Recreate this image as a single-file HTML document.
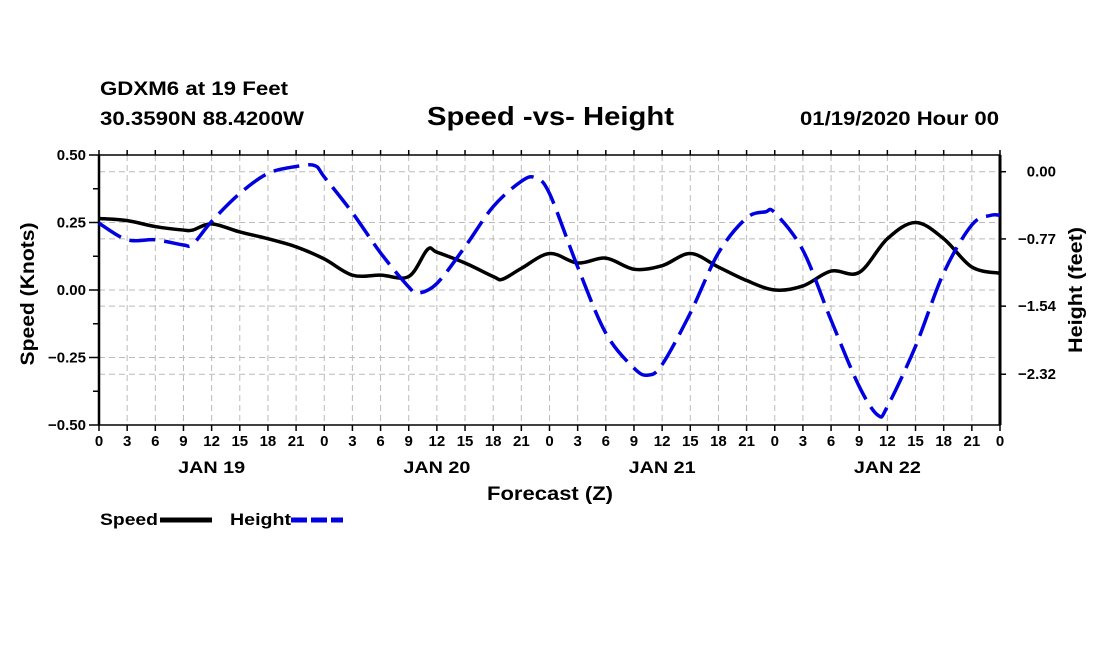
<!DOCTYPE html>
<html><head><meta charset="utf-8"><style>
body{margin:0;background:#fff;width:1100px;height:650px;overflow:hidden}
text{font-family:"Liberation Sans",Arial,sans-serif;font-weight:bold;fill:#000}
</style></head><body>
<svg id="chart" width="1100" height="650" xmlns="http://www.w3.org/2000/svg">
<text x="100" y="95" font-size="19" textLength="188" lengthAdjust="spacingAndGlyphs">GDXM6 at 19 Feet</text>
<text x="100" y="125" font-size="19" textLength="204" lengthAdjust="spacingAndGlyphs">30.3590N 88.4200W</text>
<text x="427" y="125" font-size="26" textLength="247" lengthAdjust="spacingAndGlyphs">Speed -vs- Height</text>
<text x="800" y="125" font-size="19" textLength="199" lengthAdjust="spacingAndGlyphs">01/19/2020 Hour 00</text>
<g id="grid"></g>
<g id="axes"></g>
<g id="series"></g>
<text transform="translate(34,294) rotate(-90)" font-size="19" text-anchor="middle" textLength="143" lengthAdjust="spacingAndGlyphs">Speed (Knots)</text>
<text transform="translate(1082,290) rotate(-90)" font-size="19" text-anchor="middle" textLength="126" lengthAdjust="spacingAndGlyphs">Height (feet)</text>
<text x="487" y="500" font-size="19" textLength="126" lengthAdjust="spacingAndGlyphs">Forecast (Z)</text>
<g><text x="100" y="525" font-size="17" textLength="58" lengthAdjust="spacingAndGlyphs">Speed</text><line x1="160" y1="520" x2="212" y2="520" stroke="#000" stroke-width="5"/></g>
<g><text x="230" y="525" font-size="17" textLength="61" lengthAdjust="spacingAndGlyphs">Height</text><line x1="291" y1="520" x2="343" y2="520" stroke="#0000e0" stroke-width="5" stroke-dasharray="16,4"/></g>
</svg>
<script>
const speedHours=[0,3,6,9,10,12,15,18,21,24,27,30,33,35,36,39,42,43,45,48,51,54,57,60,63,66,69,72,75,78,81,84,87,90,93,96];
const speedVals=[0.265,0.257,0.235,0.222,0.222,0.245,0.215,0.19,0.16,0.115,0.055,0.055,0.05,0.15,0.14,0.1,0.05,0.04,0.08,0.135,0.1,0.118,0.077,0.09,0.135,0.085,0.035,0.0,0.015,0.07,0.065,0.19,0.25,0.19,0.085,0.062];
const heightHours=[0,3,6,9,10,12,15,18,21,23,24,27,30,33,34,36,39,42,45,46.5,48,51,54,57,58.5,60,63,66,69,71,72,75,78,81,83,84,87,90,93,95,96];
const heightVals=[-0.59,-0.78,-0.78,-0.84,-0.83,-0.57,-0.25,-0.02,0.06,0.07,-0.06,-0.47,-0.93,-1.32,-1.39,-1.28,-0.86,-0.40,-0.11,-0.07,-0.25,-1.09,-1.85,-2.25,-2.33,-2.21,-1.62,-0.93,-0.53,-0.46,-0.47,-0.90,-1.70,-2.46,-2.79,-2.69,-2.00,-1.16,-0.61,-0.50,-0.50];
const speedTicks=["0.50","0.25","0.00","\u22120.25","\u22120.50"];
const speedTickVals=[0.5,0.25,0,-0.25,-0.5];
const heightTickVals=[0,-0.77,-1.54,-2.32];
const heightTicks=["0.00","\u22120.77","\u22121.54","\u22122.32"];
const hourLabels=["0","3","6","9","12","15","18","21"];
const dayLabels=["JAN 19","JAN 20","JAN 21","JAN 22"];
const NS="http://www.w3.org/2000/svg";
const L=99,R=1000,T=155,B=425;
const X=h=>L+h*(R-L)/96;
const YS=v=>290-v*270;
const YH=f=>171.7-f*87.3;
function mk(tag,attrs,parent){const e=document.createElementNS(NS,tag);for(const k in attrs)e.setAttribute(k,attrs[k]);parent.appendChild(e);return e;}
const grid=document.getElementById('grid'),axes=document.getElementById('axes'),series=document.getElementById('series');
for(let i=0;i<=32;i++){const x=X(i*3);
 if(i>0&&i<32){const g=mk('line',{x1:x,y1:T,x2:x,y2:B,stroke:'#bbb','stroke-dasharray':'6,4'},grid);}
 mk('line',{x1:x,y1:B,x2:x,y2:B+6,stroke:'#000','stroke-width':1.5},axes);
 mk('line',{x1:x,y1:T,x2:x,y2:T-5,stroke:'#000','stroke-width':1.5},axes);
 const t=mk('text',{x:x,y:B+21,'font-size':15,'text-anchor':'middle'},axes);t.textContent=i==32?"0":hourLabels[i%8];
 
}
dayLabels.forEach((d,i)=>{const t=mk('text',{x:X(i*24+12),y:B+48,'font-size':17,'text-anchor':'middle',textLength:67,lengthAdjust:'spacingAndGlyphs'},axes);t.textContent=d;
 });
speedTickVals.forEach((v,i)=>{const y=YS(v);
 if(i>0&&i<4){const g=mk('line',{x1:L,y1:y,x2:R,y2:y,stroke:'#bbb','stroke-dasharray':'6,4'},grid);}
 mk('line',{x1:L,y1:y,x2:L-10,y2:y,stroke:'#000','stroke-width':1.5},axes);
 const t=mk('text',{x:L-13,y:y+5,'font-size':15,'text-anchor':'end'},axes);t.textContent=speedTicks[i];
 
});
for(let v=-0.375;v<0.5;v+=0.25){mk('line',{x1:L,y1:YS(v),x2:L-6,y2:YS(v),stroke:'#000','stroke-width':1.5},axes);}
heightTickVals.forEach((f,i)=>{const y=YH(f);
 const g=mk('line',{x1:L,y1:y,x2:R,y2:y,stroke:'#bbb','stroke-dasharray':'6,4'},grid);
 mk('line',{x1:R,y1:y,x2:R+6,y2:y,stroke:'#000','stroke-width':1.5},axes);
 const t=mk('text',{x:1056,y:y+5,'font-size':15,'text-anchor':'end'},axes);t.textContent=heightTicks[i];
 
});
mk('rect',{x:L,y:T,width:R-L,height:B-T,fill:'none',stroke:'#000','stroke-width':1.5},axes);
mk('line',{x1:L,y1:T,x2:L,y2:B,stroke:'#000','stroke-width':2.5},axes);
mk('line',{x1:R,y1:T,x2:R,y2:B,stroke:'#000','stroke-width':3},axes);
function path(xs,ys){const p=xs.map((x,i)=>[x,ys[i]]);let d=`M${p[0][0]},${p[0][1]}`;
 for(let i=0;i<p.length-1;i++){const p0=p[Math.max(0,i-1)],p1=p[i],p2=p[i+1],p3=p[Math.min(p.length-1,i+2)];
  d+=` C${p1[0]+(p2[0]-p0[0])/6},${p1[1]+(p2[1]-p0[1])/6} ${p2[0]-(p3[0]-p1[0])/6},${p2[1]-(p3[1]-p1[1])/6} ${p2[0]},${p2[1]}`;}
 return d;}
const sp=mk('path',{d:path(speedHours.map(X),speedVals.map(YS)),fill:'none',stroke:'#000','stroke-width':3.5},series);

const hp=mk('path',{d:path(heightHours.map(X),heightVals.map(YH)),fill:'none',stroke:'#0000e0','stroke-width':3.5,'stroke-dasharray':'26,9'},series);

</script>
</body></html>
